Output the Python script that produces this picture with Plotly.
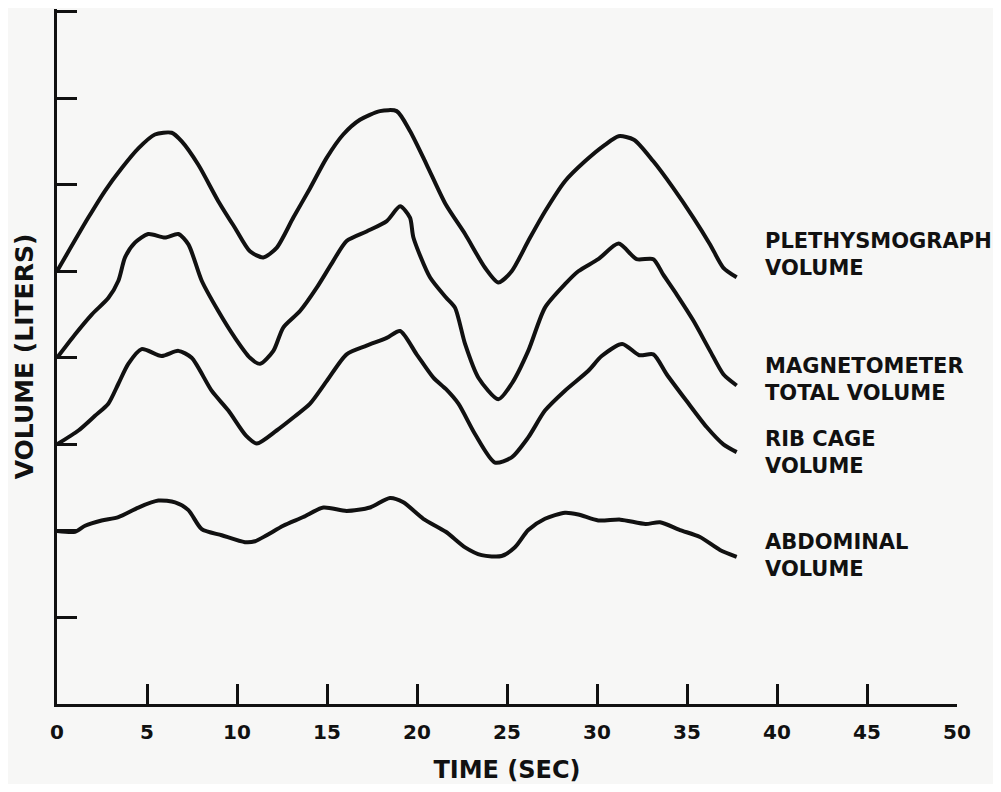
import plotly.graph_objects as go

# ---- data (time in s, volume in arbitrary litre offsets) ----
pleth_t = [0.0, 1.74, 2.67, 3.59, 4.52, 5.44, 6.37, 6.93, 7.85, 8.96, 9.89, 10.72, 11.46, 12.2,
           13.13, 14.06, 14.98, 15.9, 16.83, 17.94, 18.87, 19.61, 20.54, 21.6, 22.67, 23.78,
           24.52, 25.26, 26.18, 27.11, 28.22, 29.33, 30.44, 31.2, 32.05, 33.13, 34.24, 35.35,
           36.28, 37.02, 37.76]
pleth_v = [5.0, 5.62, 5.93, 6.19, 6.42, 6.58, 6.60, 6.50, 6.23, 5.81, 5.50, 5.23, 5.16, 5.27,
           5.62, 5.96, 6.31, 6.58, 6.75, 6.85, 6.85, 6.62, 6.23, 5.77, 5.43, 5.04,
           4.87, 5.00, 5.35, 5.69, 6.04, 6.27, 6.46, 6.56, 6.52, 6.27, 5.96, 5.62,
           5.31, 5.04, 4.93]

mag_t = [0.0, 1.0, 1.93, 2.85, 3.41, 3.78, 4.33, 5.07, 6.0, 6.74, 7.30, 8.04, 8.96, 9.89, 10.72,
         11.28, 12.02, 12.57, 13.5, 14.43, 15.35, 16.09, 17.2, 18.32, 19.06, 19.61, 19.8, 20.72,
         21.6, 22.11, 22.67, 23.41, 24.52, 25.26, 26.18, 27.11, 28.22, 28.96, 30.07, 31.2, 32.2,
         33.13, 33.68, 34.43, 35.35, 36.28, 37.02, 37.76]
mag_v = [4.0, 4.27, 4.50, 4.69, 4.89, 5.16, 5.33, 5.43, 5.39, 5.43, 5.31, 4.89, 4.54, 4.23, 4.0,
         3.93, 4.08, 4.35, 4.54, 4.81, 5.12, 5.35, 5.46, 5.58, 5.75, 5.62, 5.39, 4.93,
         4.70, 4.58, 4.16, 3.77, 3.52, 3.70, 4.08, 4.58, 4.85, 5.0, 5.14, 5.32, 5.14,
         5.14, 4.96, 4.73, 4.43, 4.08, 3.81, 3.68]

rib_t = [0.0, 1.19, 2.11, 2.85, 3.41, 3.96, 4.7, 5.81, 6.74, 7.48, 8.59, 9.52, 10.5, 11.1, 12.2,
         13.13, 14.06, 14.98, 16.09, 17.2, 18.32, 19.06, 19.98, 20.91, 21.6, 22.3, 23.22, 24.33,
         25.26, 26.18, 27.11, 28.22, 29.52, 30.26, 31.4, 32.35, 33.13, 33.87, 34.98, 36.09,
         37.02, 37.76]
rib_v = [3.0, 3.16, 3.33, 3.47, 3.70, 3.93, 4.10, 4.02, 4.08, 4.0, 3.62, 3.39, 3.10, 3.01, 3.16,
         3.31, 3.47, 3.73, 4.04, 4.14, 4.23, 4.31, 4.04, 3.77, 3.64, 3.47, 3.12, 2.79,
         2.85, 3.08, 3.39, 3.62, 3.85, 4.02, 4.16, 4.03, 4.04, 3.81, 3.50, 3.20,
         3.0, 2.91]

abd_t = [0.0, 1.0, 1.56, 2.48, 3.41, 4.52, 5.63, 6.56, 7.30, 8.04, 9.15, 10.44, 11.0, 11.65,
         12.57, 13.68, 14.8, 16.09, 17.39, 18.5, 19.24, 20.35, 21.6, 22.67, 23.59, 24.7, 25.44,
         26.18, 27.11, 28.22, 28.96, 30.07, 31.3, 32.7, 33.5, 34.61, 35.72, 36.83, 37.76]
abd_v = [2.0, 1.99, 2.06, 2.12, 2.16, 2.27, 2.35, 2.33, 2.24, 2.02, 1.95, 1.87, 1.88, 1.95,
         2.06, 2.16, 2.27, 2.23, 2.27, 2.38, 2.33, 2.14, 1.99, 1.81, 1.72, 1.71, 1.81,
         2.01, 2.14, 2.21, 2.19, 2.12, 2.13, 2.08, 2.10, 2.01, 1.93, 1.78, 1.70]

labels = ["PLETHYSMOGRAPH<br>VOLUME", "MAGNETOMETER<br>TOTAL VOLUME",
          "RIB CAGE<br>VOLUME", "ABDOMINAL<br>VOLUME"]
label_y = [5.19, 3.75, 2.905, 1.72]

x_ticks = [0, 5, 10, 15, 20, 25, 30, 35, 40, 45, 50]
y_ticks = [0, 1, 2, 3, 4, 5, 6, 7, 8]

FONT = "DejaVu Sans"
INK = "#111111"
BG = "#f7f7f6"

fig = go.Figure()
for t, v, name in [(pleth_t, pleth_v, "Plethysmograph volume"),
                   (mag_t, mag_v, "Magnetometer total volume"),
                   (rib_t, rib_v, "Rib cage volume"),
                   (abd_t, abd_v, "Abdominal volume")]:
    fig.add_trace(go.Scatter(x=t, y=v, mode="lines", name=name, cliponaxis=False,
                             line=dict(color=INK, width=4, shape="spline", smoothing=0.7)))

for txt, yy in zip(labels, label_y):
    fig.add_annotation(x=39.2, y=yy, xref="x", yref="y", text=txt, showarrow=False,
                       xanchor="left", yanchor="middle", align="left",
                       font=dict(family=FONT, size=21, color=INK, weight="bold"))

# page body adds an 8px margin, so the figure is sized to fit inside the window
fig.update_layout(
    width=985, height=776,
    margin=dict(l=49, r=36, t=1, b=80),
    paper_bgcolor=BG, plot_bgcolor=BG,
    showlegend=False,
    font=dict(family=FONT, color=INK, weight="bold"),
    xaxis=dict(range=[0, 50], tickvals=x_ticks, ticktext=[str(v) for v in x_ticks],
               ticks="inside", ticklen=20, tickwidth=3, tickcolor=INK,
               showline=True, linewidth=3, linecolor=INK,
               showgrid=False, zeroline=False, automargin=False,
               tickfont=dict(family=FONT, size=20, color=INK, weight="bold"),
               ticklabelstandoff=8,
               title=dict(text="TIME (SEC)", standoff=20,
                          font=dict(family=FONT, size=24, color=INK, weight="bold"))),
    yaxis=dict(range=[0, 8.03], tickvals=y_ticks, showticklabels=False,
               ticks="inside", ticklen=20, tickwidth=3, tickcolor=INK,
               showline=True, linewidth=3, linecolor=INK,
               showgrid=False, zeroline=False, automargin=False,
               title=dict(text="VOLUME (LITERS)", standoff=14,
                          font=dict(family=FONT, size=25, color=INK, weight="bold"))),
)

fig.write_html("out.html")
